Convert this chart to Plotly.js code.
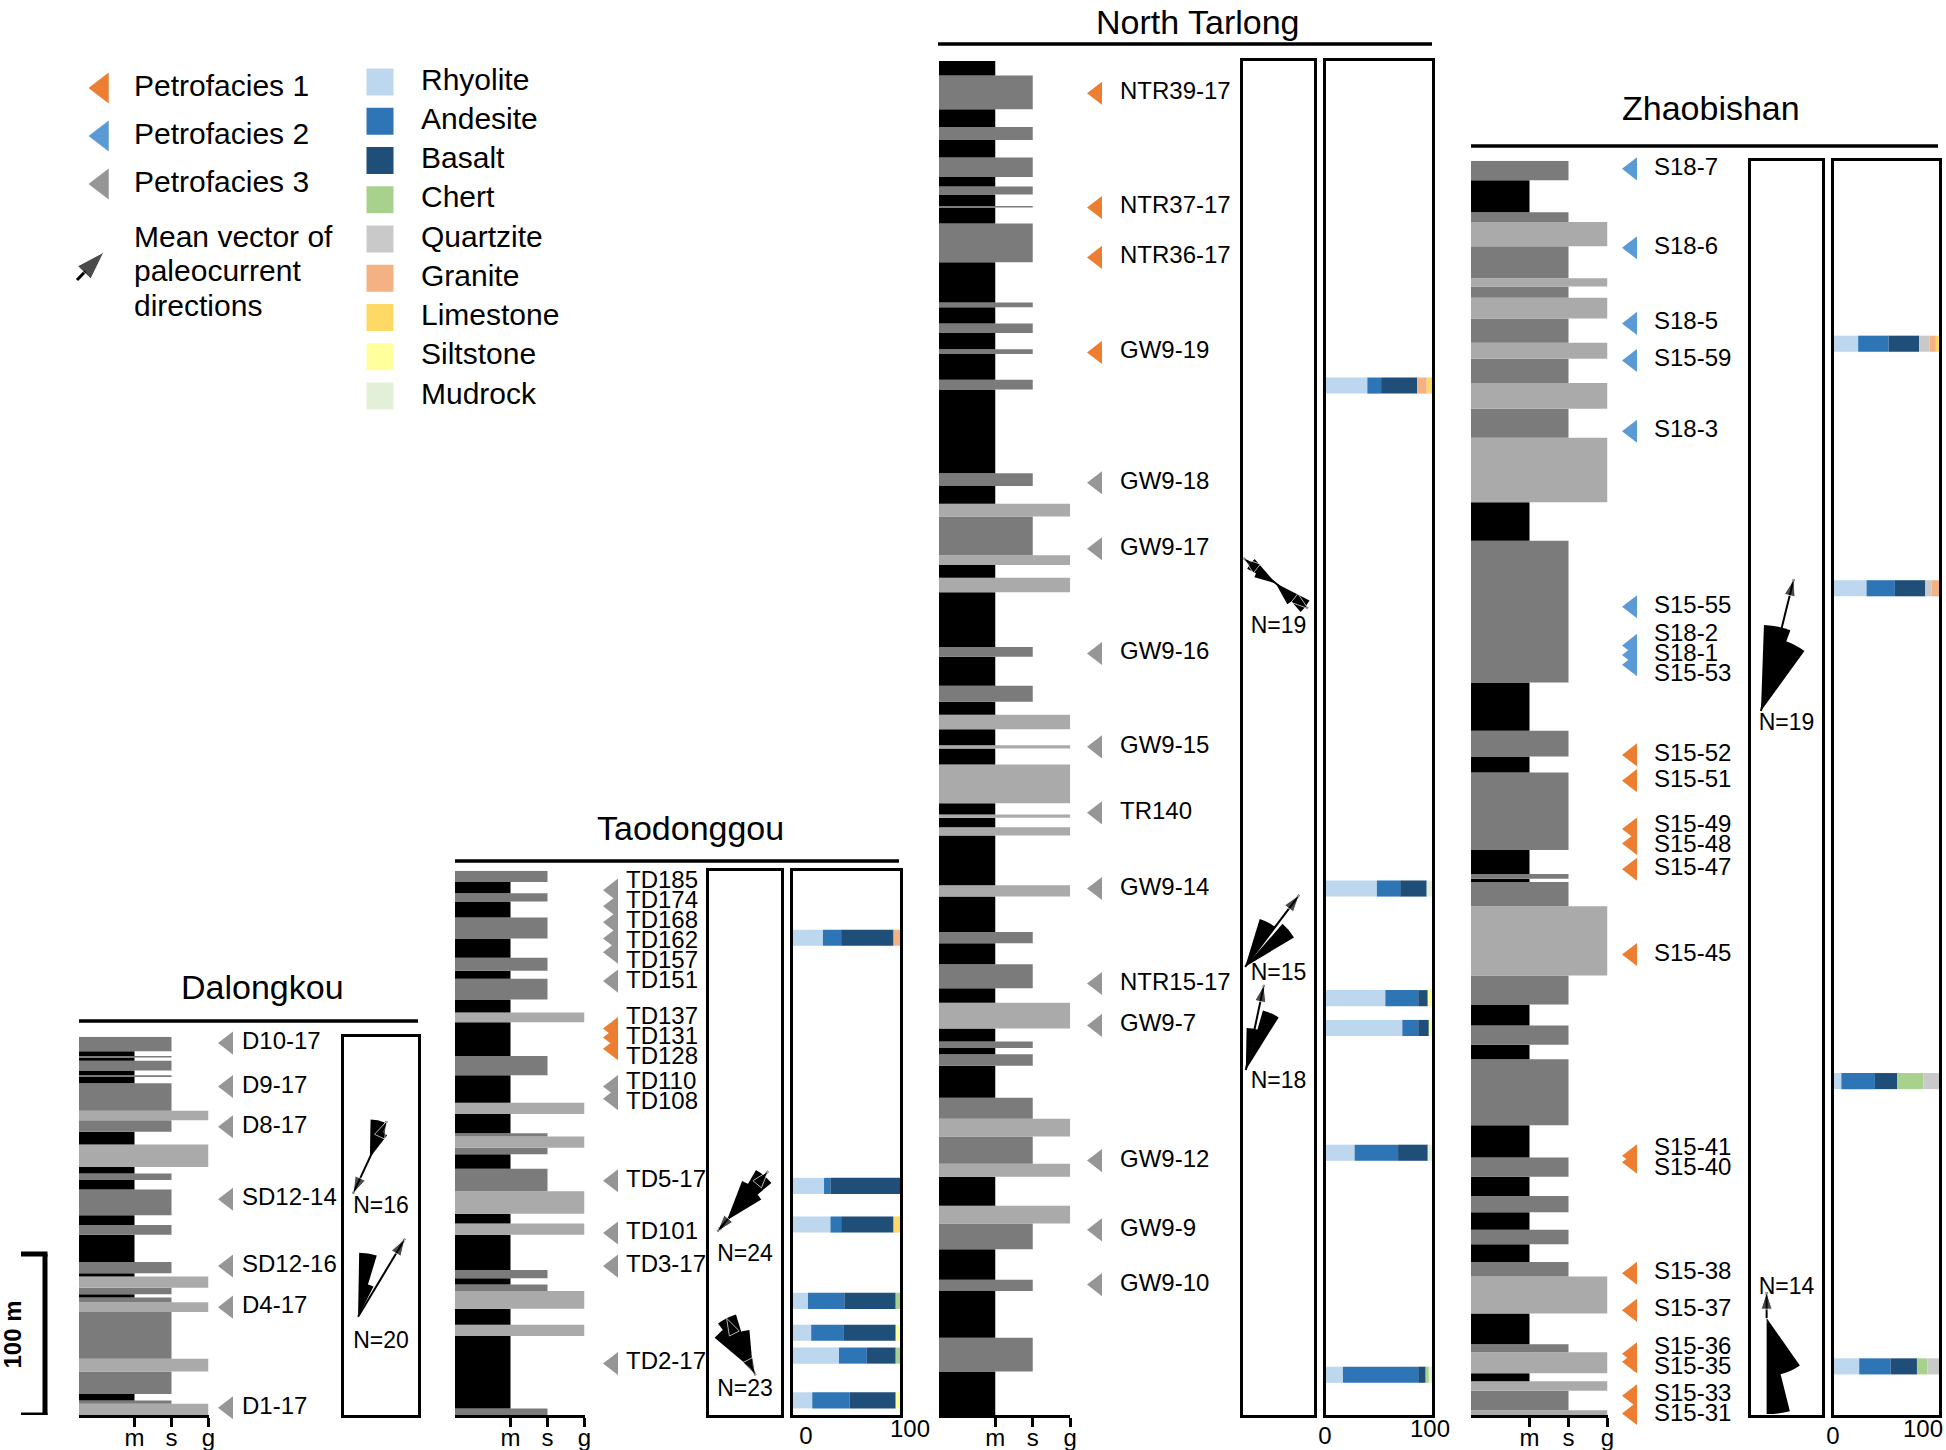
<!DOCTYPE html>
<html><head><meta charset="utf-8">
<script src="https://cdn.plot.ly/plotly-3.0.1.min.js"></script>
<style>html,body{margin:0;padding:0;background:#fff}</style>
</head><body>
<div id="chart" style="width:1946px;height:1450px"></div>
<script>
// ====================== DATA ======================
const petrofacies = ['Petrofacies 1', 'Petrofacies 2', 'Petrofacies 3'];
const meanVectorLabel = ['Mean vector of', 'paleocurrent', 'directions'];
const components = ['Rhyolite', 'Andesite', 'Basalt', 'Chert', 'Quartzite', 'Granite', 'Limestone', 'Siltstone', 'Mudrock'];
const grainTicks = ['m', 's', 'g'];   // mud, sand, gravel
const compTicks = [0, 100];

// Lithology intervals: [base (m), top (m), grain class]
const dlkLitho = [[0,7,'g'],[7,9,'s'],[9,13,'m'],[13,27,'s'],[27,35,'g'],[35,64,'s'],[64,70,'g'],[70,73,'s'],[73,75,'m'],[75,79,'s'],[79,86,'g'],[86,88,'m'],[88,95,'s'],[95,112,'m'],[112,118,'s'],[118,124,'m'],[124,140,'s'],[140,146,'m'],[146,150,'s'],[150,154,'m'],[154,168,'g'],[168,176,'m'],[176,183,'s'],[183,189,'g'],[189,206,'s'],[206,210,'m'],[210,211,'s'],[211,214,'m'],[214,220,'s'],[220,222,'m'],[222,223,'s'],[223,226,'m'],[226,235,'s']];
const tdgLitho = [[0,4,'s'],[4,49,'m'],[49,56,'g'],[56,66,'m'],[66,77,'g'],[77,81,'s'],[81,85,'m'],[85,90,'s'],[90,112,'m'],[112,119,'g'],[119,125,'m'],[125,139,'g'],[139,153,'s'],[153,162,'m'],[162,166,'s'],[166,173,'g'],[173,175,'s'],[175,187,'m'],[187,194,'g'],[194,211,'m'],[211,223,'s'],[223,244,'m'],[244,250,'g'],[250,258,'m'],[258,271,'s'],[271,276,'m'],[276,284,'s'],[284,296,'m'],[296,309,'s'],[309,319,'m'],[319,324,'s'],[324,331,'m'],[331,338,'s']];
const ntLitho = [[0,27,'m'],[27,48,'s'],[48,77,'m'],[77,84,'s'],[84,103,'m'],[103,119,'s'],[119,130,'g'],[130,148,'m'],[148,156,'g'],[156,173,'s'],[173,184,'g'],[184,197,'s'],[197,217,'m'],[217,224,'s'],[224,228,'m'],[228,232,'s'],[232,240,'m'],[240,256,'g'],[256,265,'m'],[265,280,'s'],[280,293,'m'],[293,300,'s'],[300,322,'m'],[322,329,'g'],[329,360,'m'],[360,365,'g'],[365,371,'m'],[371,373,'g'],[373,380,'m'],[380,404,'g'],[404,414,'m'],[414,416,'g'],[416,426,'m'],[426,435,'g'],[435,443,'m'],[443,453,'s'],[453,471,'m'],[471,477,'s'],[477,511,'m'],[511,520,'g'],[520,528,'m'],[528,534,'g'],[534,558,'s'],[558,566,'g'],[566,577,'m'],[577,585,'s'],[585,637,'m'],[637,643,'s'],[643,659,'m'],[659,662,'s'],[662,672,'m'],[672,678,'s'],[678,688,'m'],[688,691,'s'],[691,716,'m'],[716,740,'s'],[740,750,'m'],[750,751,'s'],[751,758,'m'],[758,763,'s'],[763,769,'m'],[769,781,'s'],[781,792,'m'],[792,800,'s'],[800,811,'m'],[811,832,'s'],[832,841,'m']];
const zbLitho = [[0,3,'g'],[3,15,'s'],[15,21,'g'],[21,26,'m'],[26,39,'g'],[39,44,'s'],[44,63,'m'],[63,86,'g'],[86,95,'s'],[95,106,'m'],[106,115,'s'],[115,126,'m'],[126,136,'s'],[136,148,'m'],[148,160,'s'],[160,180,'m'],[180,221,'s'],[221,230,'m'],[230,242,'s'],[242,255,'m'],[255,273,'s'],[273,316,'g'],[316,331,'s'],[331,333,'m'],[333,336,'s'],[336,351,'m'],[351,399,'s'],[399,409,'m'],[409,425,'s'],[425,455,'m'],[455,543,'s'],[543,567,'m'],[567,607,'g'],[607,625,'s'],[625,641,'g'],[641,656,'s'],[656,666,'g'],[666,681,'s'],[681,694,'g'],[694,701,'s'],[701,706,'g'],[706,726,'s'],[726,741,'g'],[741,747,'s'],[747,767,'m'],[767,779,'s']];

// Samples: name, stratigraphic level (m), petrofacies (1-3)
const dlkSamples = ['D10-17','D9-17','D8-17','SD12-14','SD12-16','D4-17','D1-17'];
const dlkSampleLevel = [231, 204, 179, 134, 92.5, 67, 4.5];
const dlkSampleFacies = [3, 3, 3, 3, 3, 3, 3];

const tdgSamples = ['TD185','TD174','TD168','TD162','TD157','TD151','TD137','TD131','TD128','TD110','TD108','TD5-17','TD101','TD3-17','TD2-17'];
const tdgSampleLevel = [326, 316, 306, 296, 287.5, 269.5, 240, 234.5, 227.5, 204, 196.5, 145.5, 113, 92.5, 32];
const tdgSampleFacies = [3, 3, 3, 3, 3, 3, 1, 1, 1, 3, 3, 3, 3, 3, 3];

const ntSamples = ['NTR39-17','NTR37-17','NTR36-17','GW9-19','GW9-18','GW9-17','GW9-16','GW9-15','TR140','GW9-14','NTR15-17','GW9-7','GW9-12','GW9-9','GW9-10'];
const ntSampleLevel = [821, 750, 719, 660, 579, 538, 473, 415, 374, 327, 268, 242, 158, 115, 81];
const ntSampleFacies = [1, 1, 1, 1, 3, 3, 3, 3, 3, 3, 3, 3, 3, 3, 3];

const zbSamples = ['S18-7','S18-6','S18-5','S15-59','S18-3','S15-55','S18-2','S18-1','S15-53','S15-52','S15-51','S15-49','S15-48','S15-47','S15-45','S15-41','S15-40','S15-38','S15-37','S15-36','S15-35','S15-33','S15-31'];
const zbSampleLevel = [774, 725, 678, 655, 611, 502, 478, 472, 466, 410, 394, 364, 355, 339, 286, 161, 157, 88, 65, 38, 33, 12, 1];
const zbSampleFacies = [2, 2, 2, 2, 2, 2, 2, 2, 2, 1, 1, 1, 1, 1, 1, 1, 1, 1, 1, 1, 1, 1, 1];

// Clast composition (%), columns in the order of `components`
const tdgCompLevel = [296.4, 142.3, 118.3, 70.9, 51.1, 36.9, 9.1];
const tdgComp = [
  [28, 17, 49, 0, 0, 6, 0, 0, 0],
  [29, 6, 65, 0, 0, 0, 0, 0, 0],
  [35, 10, 49, 0, 0, 0, 6, 0, 0],
  [14, 34, 48, 4, 0, 0, 0, 0, 0],
  [17, 30, 49, 0, 0, 0, 0, 4, 0],
  [43, 26, 27, 4, 0, 0, 0, 0, 0],
  [18, 35, 43, 0, 0, 0, 0, 4, 0]];
const ntCompLevel = [639.4, 327.0, 258.9, 240.4, 162.9, 25.0];
const ntComp = [
  [39, 13, 34, 0, 0, 9, 5, 0, 0],
  [48, 22, 25, 0, 0, 0, 0, 0, 5],
  [56, 31, 9, 0, 0, 0, 0, 4, 0],
  [72, 15, 10, 0, 0, 0, 0, 3, 0],
  [27, 41, 28, 0, 0, 0, 0, 0, 4],
  [16, 71, 7, 3, 0, 0, 0, 0, 3]];
const zbCompLevel = [665.4, 513.5, 207.4, 30.2];
const zbComp = [
  [23, 29, 29, 0, 10, 6, 3, 0, 0],
  [31, 27, 29, 0, 6, 7, 0, 0, 0],
  [7, 32, 21, 25, 15, 0, 0, 0, 0],
  [24, 30, 25, 10, 11, 0, 0, 0, 0]];

// Paleocurrent rose diagrams: N, level (m), petal azimuths / lengths / widths (deg),
// mean-vector azimuth and length (+ opposite length for bidirectional), label level (m)
const dlkRoses = [
  {n:16, level:160, labelLevel:129, petalAz:[12, 28], petalLen:[38, 28], petalW:[22, 20], meanAz:25, meanLen:40, backLen:40},
  {n:20, level:61, labelLevel:45, petalAz:[9, 20], petalLen:[64, 34], petalW:[16, 14], meanAz:31, meanLen:91, backLen:0}];
const tdgRoses = [
  {n:24, level:121, labelLevel:99.4, petalAz:[30, 40, 50, 220], petalLen:[42, 58, 40, 12], petalW:[18, 20, 18, 18], meanAz:40, meanLen:64, backLen:15},
  {n:23, level:28, labelLevel:15.5, petalAz:[320, 333, 346], petalLen:[50, 58, 40], petalW:[20, 20, 18], meanAz:333, meanLen:58, backLen:6}];
const ntRoses = [
  {n:19, level:516.6, labelLevel:489.4, petalAz:[128, 142, 308, 294], petalLen:[38, 24, 32, 22], petalW:[22, 18, 22, 16], meanAz:128, meanLen:41, backLen:41},
  {n:15, level:278.4, labelLevel:273.8, petalAz:[27, 50], petalLen:[50, 57], petalW:[20, 18], meanAz:37, meanLen:90, backLen:0},
  {n:18, level:214.3, labelLevel:206.5, petalAz:[9, 24], petalLen:[42, 62], petalW:[16, 16], meanAz:12, meanLen:87, backLen:0}];
const zbRoses = [
  {n:19, level:437.3, labelLevel:429.2, petalAz:[11, 27], petalLen:[86, 74], petalW:[18, 18], meanAz:14, meanLen:136, backLen:0},
  {n:14, level:60.2, labelLevel:78.9, petalAz:[157, 173], petalLen:[58, 96], petalW:[24, 14], meanAz:0, meanLen:26, backLen:0}];

// ====================== STYLE / LAYOUT ======================
const W = 1946, H = 1450;
const FONT = 'Liberation Sans, Arial, Helvetica, sans-serif';
const PX_PER_M = 1.61, BASE_PX = 1415;
const faciesColors = ['#ED7D31', '#5B9BD5', '#969696'];
const compColors = ['#BDD7EE', '#2E75B6', '#1F4E79', '#A9D18E', '#C9C9C9', '#F4B183', '#FFD966', '#FFFF9E', '#E2F0D9'];
const grainValue = {m: 1, s: 2, g: 3};
const grainColor = {m: '#000000', s: '#7B7B7B', g: '#AAAAAA'};

const sections = [
  {name:'Dalongkou', height:235, litho:dlkLitho, samples:dlkSamples, level:dlkSampleLevel, facies:dlkSampleFacies,
   colLeft:79, unit:37, mx:228, lx:242, rose:[344, 418], roses:dlkRoses, comp:null,
   title:[262, 987], header:[1021, 79, 418]},
  {name:'Taodonggou', height:338, litho:tdgLitho, samples:tdgSamples, level:tdgSampleLevel, facies:tdgSampleFacies,
   colLeft:455, unit:37, mx:613, lx:626, rose:[709, 781], roses:tdgRoses,
   comp:{box:[793, 900], level:tdgCompLevel, rows:tdgComp, shift:[13, 10]},
   title:[690, 828], header:[861, 455, 899]},
  {name:'North Tarlong', height:841, litho:ntLitho, samples:ntSamples, level:ntSampleLevel, facies:ntSampleFacies,
   colLeft:939, unit:37.5, mx:1097, lx:1120, rose:[1243, 1314], roses:ntRoses,
   comp:{box:[1326, 1432], level:ntCompLevel, rows:ntComp, shift:[-1, -2]},
   title:[1198, 22], header:[44, 938, 1432]},
  {name:'Zhaobishan', height:779, litho:zbLitho, samples:zbSamples, level:zbSampleLevel, facies:zbSampleFacies,
   colLeft:1471, unit:39, mx:1632, lx:1654, rose:[1751, 1822], roses:zbRoses,
   comp:{box:[1834, 1939], level:zbCompLevel, rows:zbComp, shift:[-1, -16]},
   title:[1711, 108], header:[146, 1471, 1938]}
];
const roseXFrac = [[0.35, 0.19], [0.25, 0.61], [0.46, 0.03, 0.04], [0.14, 0.22]];

const px2x = p => p / W;
const px2y = p => 1 - p / H;

const layout = {
  width: W, height: H, margin: {l:0, r:0, t:0, b:0, pad:0},
  paper_bgcolor: '#ffffff', plot_bgcolor: 'rgba(0,0,0,0)',
  showlegend: false, barmode: 'overlay', hovermode: false,
  font: {family: FONT, size: 24, color: '#000'},
  annotations: [], shapes: []
};
const traces = [];
let nx = 0, ny = 0, np = 0;
function addAxis(letter, opts) {
  const n = letter === 'x' ? ++nx : ++ny;
  const id = letter + (n === 1 ? '' : n);
  const key = letter + 'axis' + (n === 1 ? '' : n);
  layout[key] = Object.assign({type:'linear', fixedrange:true, showgrid:false, zeroline:false, automargin:false}, opts);
  return {id, key};
}
function pair(xa, ya) { layout[xa.key].anchor = ya.id; layout[ya.key].anchor = xa.id; }
const hidden = {visible:false};
const frame = {showline:true, mirror:true, linewidth:3, linecolor:'#000', ticks:''};
const tickFont = {size:24, family:FONT, color:'#000'};

// label de-overlap (cluster centering)
function spreadLabels(pos, gap) {
  const idx = pos.map((p, i) => i).sort((a, b) => pos[b] - pos[a]);
  let groups = idx.map(i => ({ids:[i], center:pos[i]}));
  let changed = true;
  while (changed) {
    changed = false;
    for (let g = 0; g < groups.length - 1; g++) {
      const A = groups[g], B = groups[g + 1];
      const aBot = A.center - (A.ids.length - 1) * gap / 2;
      const bTop = B.center + (B.ids.length - 1) * gap / 2;
      if (aBot - bTop < gap - 1e-9) {
        const ids = A.ids.concat(B.ids);
        const center = ids.reduce((s, i) => s + pos[i], 0) / ids.length;
        groups.splice(g, 2, {ids, center});
        changed = true; break;
      }
    }
  }
  const out = new Array(pos.length);
  groups.forEach(G => G.ids.forEach((i, k) => { out[i] = G.center + ((G.ids.length - 1) / 2 - k) * gap; }));
  return out;
}

// ---------- Legend (manual, px coordinates) ----------
const xLeg = addAxis('x', Object.assign({domain:[0, 1], range:[0, W]}, hidden));
const yLeg = addAxis('y', Object.assign({domain:[0, 1], range:[H, 0]}, hidden));
pair(xLeg, yLeg);
const legFaciesY = petrofacies.map((_, i) => 88 + i * 48);
traces.push({type:'scatter', mode:'markers', xaxis:xLeg.id, yaxis:yLeg.id, cliponaxis:false,
  x: petrofacies.map(() => 102), y: legFaciesY,
  marker:{symbol:'triangle-left', size:27, color:faciesColors, line:{width:0}}});
traces.push({type:'scatter', mode:'text', xaxis:xLeg.id, yaxis:yLeg.id, cliponaxis:false,
  x: petrofacies.map(() => 134), y: legFaciesY, text: petrofacies, textposition:'middle right',
  textfont:{size:30, family:FONT, color:'#000'}});
traces.push({type:'scatter', mode:'lines+markers', xaxis:xLeg.id, yaxis:yLeg.id, cliponaxis:false,
  x:[77, 104], y:[280, 252], line:{color:'#000', width:3},
  marker:{symbol:'arrow', size:[0, 30], color:'#000', angleref:'previous'}});
traces.push({type:'scatter', mode:'text', xaxis:xLeg.id, yaxis:yLeg.id, cliponaxis:false,
  x: meanVectorLabel.map(() => 134), y: meanVectorLabel.map((_, i) => 239 + i * 34.5),
  text: meanVectorLabel, textposition:'middle right', textfont:{size:30, family:FONT, color:'#000'}});
const legCompY = components.map((_, j) => 82 + j * 39.25);
traces.push({type:'scatter', mode:'markers', xaxis:xLeg.id, yaxis:yLeg.id, cliponaxis:false,
  x: components.map(() => 380), y: legCompY, marker:{symbol:'square', size:27, color:compColors, line:{width:0}}});
traces.push({type:'scatter', mode:'text', xaxis:xLeg.id, yaxis:yLeg.id, cliponaxis:false,
  x: components.map(() => 421), y: legCompY, text: components, textposition:'middle right',
  textfont:{size:30, family:FONT, color:'#000'}});

// ---------- Sections ----------
sections.forEach((sec, si) => {
  const topPx = BASE_PX - sec.height * PX_PER_M;
  const yd = [px2y(BASE_PX), px2y(topPx)];

  // lithology column
  const xL = addAxis('x', {domain:[px2x(sec.colLeft), px2x(sec.colLeft + 3.5 * sec.unit)], range:[-0.5, 3],
    tickvals:[1, 2, 3], ticktext:grainTicks, showline:true, linewidth:3, linecolor:'#000',
    ticks:'outside', ticklen:9, tickwidth:3, tickcolor:'#000', ticklabelstandoff:-10, tickfont:tickFont});
  const yL = addAxis('y', Object.assign({domain:yd, range:[0, sec.height]}, hidden));
  pair(xL, yL);
  traces.push({type:'bar', orientation:'h', xaxis:xL.id, yaxis:yL.id,
    y: sec.litho.map(d => (d[0] + d[1]) / 2), width: sec.litho.map(d => d[1] - d[0]),
    x: sec.litho.map(d => grainValue[d[2]] + 0.5), base: -0.5,
    marker:{color: sec.litho.map(d => grainColor[d[2]]), line:{width:0}}});
  if (si === 0) sec.yId = yL.id;

  // sample markers & labels
  const laneR = Math.min(W, sec.lx + 230);
  const xS = addAxis('x', Object.assign({domain:[px2x(sec.mx - 20), px2x(laneR)], range:[sec.mx - 20, laneR]}, hidden));
  layout[xS.key].anchor = yL.id;
  traces.push({type:'scatter', mode:'markers', xaxis:xS.id, yaxis:yL.id, cliponaxis:false,
    x: sec.level.map(() => sec.mx), y: sec.level,
    marker:{symbol:'triangle-left', size:20, color: sec.facies.map(f => faciesColors[f - 1]), line:{width:0}}});
  traces.push({type:'scatter', mode:'text', xaxis:xS.id, yaxis:yL.id, cliponaxis:false,
    x: sec.level.map(() => sec.lx), y: spreadLabels(sec.level, 12.4), text: sec.samples,
    textposition:'middle right', textfont:{size:24, family:FONT, color:'#000'}});

  // rose-diagram frame
  const xR = addAxis('x', Object.assign({domain:[px2x(sec.rose[0]), px2x(sec.rose[1])], range:[0, 1], showticklabels:false}, frame));
  const yR = addAxis('y', Object.assign({domain:yd, range:[0, sec.height], showticklabels:false}, frame));
  pair(xR, yR);
  traces.push({type:'scatter', mode:'text', xaxis:xR.id, yaxis:yR.id, cliponaxis:false,
    x: sec.roses.map(() => 0.5), y: sec.roses.map(r => r.labelLevel), text: sec.roses.map(r => 'N=' + r.n),
    textposition:'middle center', textfont:{size:23, family:FONT, color:'#000'}});

  sec.roses.forEach((r, ri) => {
    const cx = sec.rose[0] + roseXFrac[si][ri] * (sec.rose[1] - sec.rose[0]);
    const cy = BASE_PX - r.level * PX_PER_M;
    const R = Math.min(150, cx, W - cx, cy, H - cy);
    np++;
    const key = np === 1 ? 'polar' : 'polar' + np;
    layout[key] = {
      domain:{x:[px2x(cx - R), px2x(cx + R)], y:[px2y(cy + R), px2y(cy - R)]},
      bgcolor:'rgba(0,0,0,0)',
      radialaxis:{visible:false, range:[0, R], showgrid:false, showline:false, showticklabels:false, ticks:''},
      angularaxis:{visible:false, rotation:90, direction:'clockwise', showgrid:false, showline:false, showticklabels:false, ticks:''}
    };
    traces.push({type:'barpolar', subplot:key, r:r.petalLen, theta:r.petalAz, width:r.petalW,
      marker:{color:'#000', line:{width:0}}});
    const two = r.backLen > 0;
    traces.push({type:'scatterpolar', subplot:key, mode:'lines+markers', cliponaxis:false,
      r: two ? [r.backLen, 0, r.meanLen] : [0, r.meanLen],
      theta: two ? [r.meanAz + 180, r.meanAz, r.meanAz] : [r.meanAz, r.meanAz],
      line:{color:'#000', width:2},
      marker:{symbol:'arrow', color:'#000', angleref:'up',
        size: two ? [18, 0, 18] : [0, 18],
        angle: two ? [r.meanAz + 180, 0, r.meanAz] : [0, r.meanAz]}});
  });

  // composition frame + stacked bars
  if (sec.comp) {
    const xC = addAxis('x', Object.assign({domain:[px2x(sec.comp.box[0]), px2x(sec.comp.box[1])], range:[0, 100],
      tickvals:[compTicks[0]], ticktext:[String(compTicks[0])], ticklabelshift:sec.comp.shift[0],
      ticklabelstandoff:-3, ticklabeloverflow:'allow', tickfont:tickFont}, frame));
    const yC = addAxis('y', Object.assign({domain:yd, range:[0, sec.height], showticklabels:false}, frame));
    pair(xC, yC);
    // second label axis (the 100 % tick) overlaying the same frame
    const xC2 = addAxis('x', {domain:[px2x(sec.comp.box[0]), px2x(sec.comp.box[1])], range:[0, 100],
      overlaying:xC.id, anchor:yC.id, showline:false, ticks:'',
      tickvals:[compTicks[1]], ticktext:[String(compTicks[1])], ticklabelshift:sec.comp.shift[1],
      ticklabelstandoff:-3, ticklabeloverflow:'allow', tickfont:tickFont});
    traces.push({type:'scatter', mode:'markers', xaxis:xC2.id, yaxis:yC.id, x:[], y:[]});
    const cum = sec.comp.rows.map(() => 0);
    components.forEach((c, k) => {
      const vals = sec.comp.rows.map(row => row[k]);
      const bases = cum.slice();
      vals.forEach((v, i) => { cum[i] += v; });
      traces.push({type:'bar', orientation:'h', xaxis:xC.id, yaxis:yC.id, name:c,
        y: sec.comp.level, x: vals, base: bases, width: 10,
        marker:{color:compColors[k], line:{width:0}}});
    });
  }

  // title + header line
  layout.annotations.push({xref:'paper', yref:'paper', x:px2x(sec.title[0]), y:px2y(sec.title[1]),
    xanchor:'center', yanchor:'middle', showarrow:false, text:sec.name, font:{size:34, family:FONT, color:'#000'}});
  layout.shapes.push({type:'line', xref:'paper', yref:'paper', x0:px2x(sec.header[1]), x1:px2x(sec.header[2]),
    y0:px2y(sec.header[0]), y1:px2y(sec.header[0]), line:{color:'#000', width:3.5}});
});

// scale bar (100 m) on Dalongkou's vertical scale
const yScale = sections[0].yId;
layout.shapes.push({type:'line', xref:'paper', yref:yScale, x0:px2x(45), x1:px2x(45), y0:0, y1:100, line:{color:'#000', width:5}});
layout.shapes.push({type:'line', xref:'paper', yref:yScale, x0:px2x(21), x1:px2x(47.5), y0:100, y1:100, line:{color:'#000', width:5}});
layout.shapes.push({type:'line', xref:'paper', yref:yScale, x0:px2x(21), x1:px2x(47.5), y0:0, y1:0, line:{color:'#000', width:5}});
layout.annotations.push({xref:'paper', yref:yScale, x:px2x(12), y:50, textangle:-90, showarrow:false,
  xanchor:'center', yanchor:'middle', text:'<b>100 m</b>', font:{size:24, family:FONT, color:'#000'}});

traces.forEach(t => { t.hoverinfo = 'skip'; t.showlegend = false; });
Plotly.newPlot('chart', traces, layout, {staticPlot:true, displayModeBar:false});
</script>
</body></html>
